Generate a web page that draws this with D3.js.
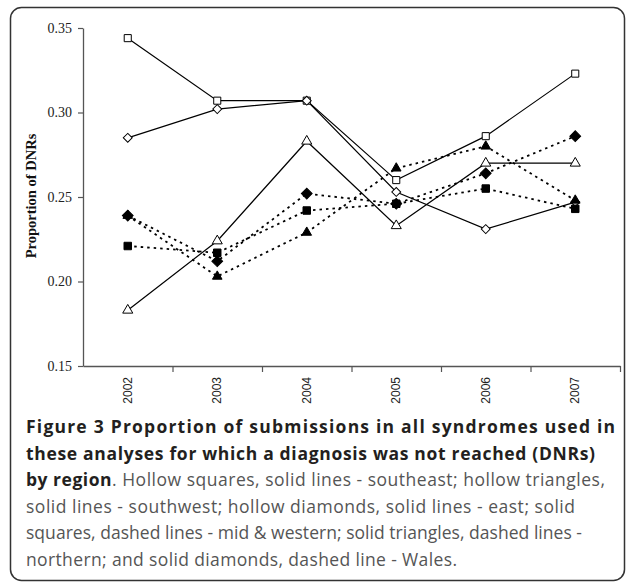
<!DOCTYPE html>
<html>
<head>
<meta charset="utf-8">
<script src="https://cdn.jsdelivr.net/npm/d3@7"></script>
<style>
  body { margin: 0; background: #fff; }
  svg { display: block; }
</style>
</head>
<body>
<div id="chart"></div>
<script>
// Data
const years = ['2002', '2003', '2004', '2005', '2006', '2007']
const yTicks = [0.15, 0.20, 0.25, 0.30, 0.35]

const southeast = [0.344, 0.307, 0.307, 0.260, 0.286, 0.323]
const southwest = [0.183, 0.224, 0.283, 0.233, 0.270, 0.270]
const east = [0.285, 0.302, 0.307, 0.253, 0.231, 0.247]
const midWestern = [0.221, 0.217, 0.242, 0.246, 0.255, 0.243]
const northern = [0.239, 0.203, 0.229, 0.267, 0.280, 0.248]
const wales = [0.239, 0.212, 0.252, 0.246, 0.264, 0.286]

const series = [
  { name: 'southeast', values: southeast, shape: 'square', filled: false },
  { name: 'southwest', values: southwest, shape: 'triangle', filled: false },
  { name: 'east', values: east, shape: 'diamond', filled: false },
  { name: 'mid & western', values: midWestern, shape: 'square', filled: true },
  { name: 'northern', values: northern, shape: 'triangle', filled: true },
  { name: 'Wales', values: wales, shape: 'diamond', filled: true }
]

const captionLines = [
  [{ t: 'Figure 3 Proportion of submissions in all syndromes used in', b: true }],
  [{ t: 'these analyses for which a diagnosis was not reached (DNRs)', b: true }],
  [{ t: 'by region', b: true }, { t: '. Hollow squares, solid lines - southeast; hollow triangles,', b: false }],
  [{ t: 'solid lines - southwest; hollow diamonds, solid lines - east; solid', b: false }],
  [{ t: 'squares, dashed lines - mid & western; solid triangles, dashed lines -', b: false }],
  [{ t: 'northern; and solid diamonds, dashed line - Wales.', b: false }]
]
// right end of each caption line in the figure
const captionEnds = [615, 595, 605, 575, 582, 457]

// Dimensions
const dimensions = {
  width: 627,
  height: 583,
  plot: { left: 83, right: 620, top: 28, bottom: 366 }
}

const svg = d3.select('#chart')
  .append('svg')
  .attr('width', dimensions.width)
  .attr('height', dimensions.height)

// rounded frame
svg.append('rect')
  .attr('x', 10.5)
  .attr('y', 7.5)
  .attr('width', 614)
  .attr('height', 573)
  .attr('rx', 11)
  .attr('fill', 'none')
  .attr('stroke', '#333')
  .attr('stroke-width', 1.5)

// Scales
const xScale = d3.scaleBand()
  .domain(years)
  .range([dimensions.plot.left, dimensions.plot.right])

const xEdges = d3.scaleLinear()
  .domain([0, years.length])
  .range([dimensions.plot.left, dimensions.plot.right])

const yScale = d3.scaleLinear()
  .domain([0.15, 0.35])
  .range([dimensions.plot.bottom, dimensions.plot.top])

const xPos = (d, i) => xScale(years[i]) + xScale.bandwidth() / 2

// Axes
const yAxisGroup = svg.append('g')
  .attr('transform', `translate(${dimensions.plot.left},0)`)
  .call(d3.axisLeft(yScale).tickValues(yTicks).tickFormat(d3.format('.2f')).tickSize(5).tickSizeOuter(0))
yAxisGroup.select('.domain').attr('stroke', '#555').attr('stroke-width', 1.3)
yAxisGroup.selectAll('.tick line').attr('stroke', '#555').attr('stroke-width', 1.2)
yAxisGroup.selectAll('.tick text')
  .attr('x', -11)
  .attr('font-family', '"Liberation Serif", "Times New Roman", serif')
  .attr('font-size', 14)
  .attr('fill', '#222')

const xTickGroup = svg.append('g')
  .attr('transform', `translate(0,${dimensions.plot.bottom})`)
  .call(d3.axisBottom(xEdges).tickValues(d3.range(1, years.length + 1)).tickFormat('').tickSize(6).tickSizeOuter(0))
xTickGroup.select('.domain').attr('stroke', '#555').attr('stroke-width', 1.3)
xTickGroup.selectAll('.tick line').attr('stroke', '#555').attr('stroke-width', 1.2)

const xLabelGroup = svg.append('g')
  .attr('transform', `translate(0,${dimensions.plot.bottom})`)
  .call(d3.axisBottom(xScale).tickSize(0))
xLabelGroup.select('.domain').remove()
xLabelGroup.selectAll('.tick text')
  .attr('transform', 'rotate(-90)')
  .attr('x', -11)
  .attr('y', 0)
  .attr('dy', '0.35em')
  .attr('text-anchor', 'end')
  .attr('font-family', '"Liberation Sans", Arial, sans-serif')
  .attr('font-size', 12)
  .attr('fill', '#222')

svg.append('text')
  .attr('transform', `translate(36,196) rotate(-90)`)
  .attr('text-anchor', 'middle')
  .attr('font-family', '"Liberation Serif", "Times New Roman", serif')
  .attr('font-weight', 'bold')
  .attr('font-size', 14.5)
  .attr('fill', '#111')
  .text('Proportion of DNRs')

// Lines
const line = d3.line()
  .x(xPos)
  .y(d => yScale(d))

const plot = svg.append('g')

plot.selectAll('path.series')
  .data(series)
  .join('path')
  .attr('class', 'series')
  .attr('d', d => line(d.values))
  .attr('fill', 'none')
  .attr('stroke', '#000')
  .attr('stroke-width', d => d.filled ? 1.8 : 1.2)
  .attr('stroke-dasharray', d => d.filled ? '2.5,4' : null)

// Markers (diamond = square turned 45deg)
const symbolSize = {
  square: { hollow: 50, solid: 56 },
  triangle: { hollow: 44, solid: 40 },
  diamond: { hollow: 40, solid: 58 }
}
const symbolType = {
  square: d3.symbolSquare,
  triangle: d3.symbolTriangle,
  diamond: d3.symbolSquare
}

series.forEach(s => {
  plot.append('g')
    .selectAll('path')
    .data(s.values)
    .join('path')
    .attr('transform', (d, i) => `translate(${xPos(d, i)},${yScale(d)})` + (s.shape === 'diamond' ? ' rotate(45)' : ''))
    .attr('d', d3.symbol(symbolType[s.shape], symbolSize[s.shape][s.filled ? 'solid' : 'hollow']))
    .attr('fill', s.filled ? '#000' : '#fff')
    .attr('stroke', '#000')
    .attr('stroke-width', 1)
})

// Caption
const caption = svg.append('g')
  .attr('font-family', '"Open Sans", sans-serif')
  .attr('font-size', 17.5)

captionLines.forEach((parts, i) => {
  const text = caption.append('text')
    .attr('x', 26)
    .attr('y', 433 + i * 26.6)
    .attr('textLength', captionEnds[i] - 26)
    .attr('lengthAdjust', 'spacing')
  text.selectAll('tspan')
    .data(parts)
    .join('tspan')
    .attr('font-weight', d => d.b ? 'bold' : 'normal')
    .attr('fill', d => d.b ? '#231f20' : '#555')
    .text(d => d.t)
})
</script>
</body>
</html>
